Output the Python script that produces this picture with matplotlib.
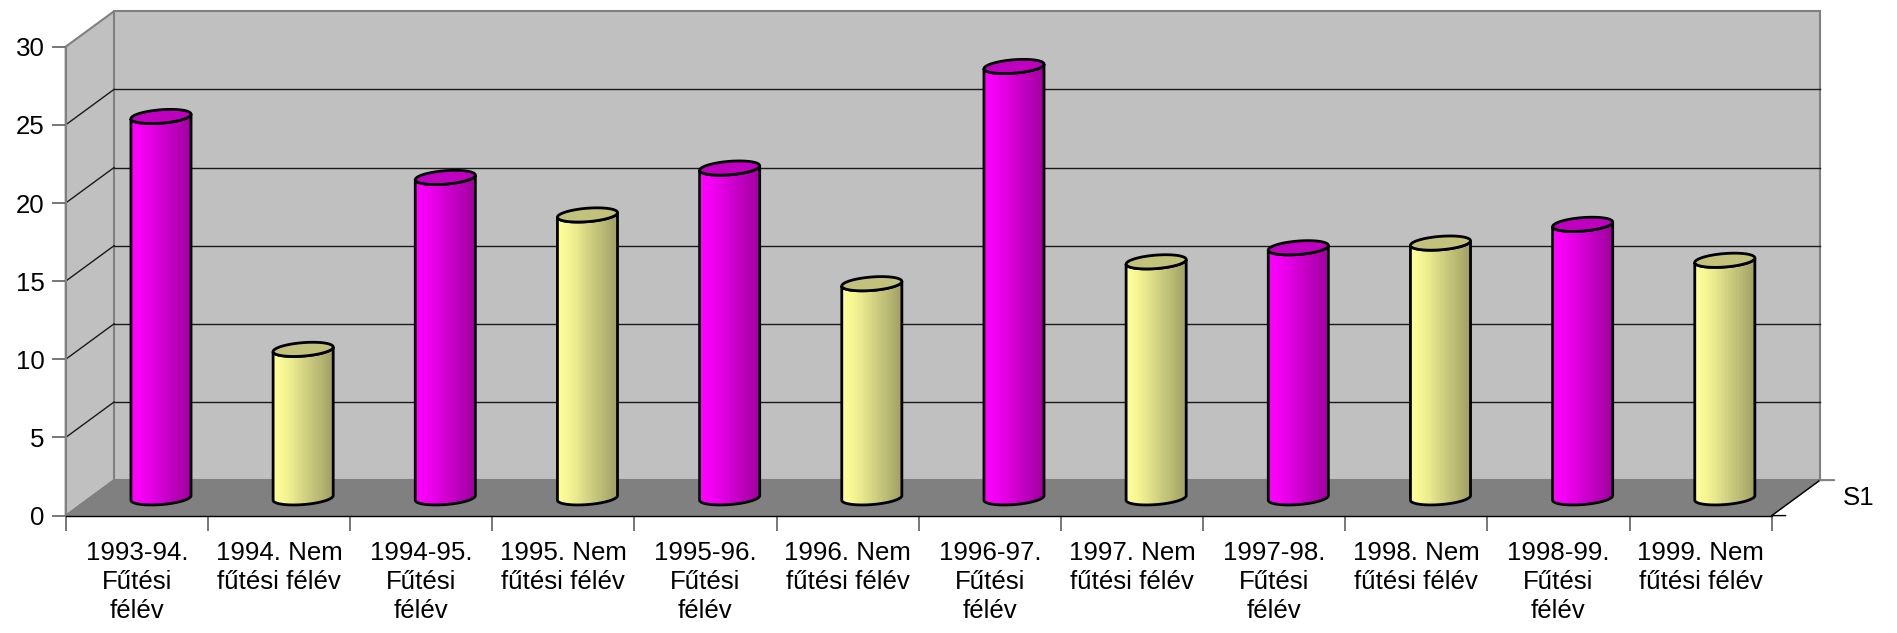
import numpy as np
import matplotlib
matplotlib.use("Agg")
import matplotlib.pyplot as plt
from matplotlib.patches import Polygon
from matplotlib.colors import LinearSegmentedColormap

# data
categories = [
    "1993-94.\nFűtési\nfélév", "1994. Nem\nfűtési félév",
    "1994-95.\nFűtési\nfélév", "1995. Nem\nfűtési félév",
    "1995-96.\nFűtési\nfélév", "1996. Nem\nfűtési félév",
    "1996-97.\nFűtési\nfélév", "1997. Nem\nfűtési félév",
    "1997-98.\nFűtési\nfélév", "1998. Nem\nfűtési félév",
    "1998-99.\nFűtési\nfélév", "1999. Nem\nfűtési félév",
]
values = [24.4, 9.5, 20.5, 18.1, 21.1, 13.7, 27.6, 15.1, 16.0, 16.3, 17.5, 15.2]
yticks = [0, 5, 10, 15, 20, 25, 30]
series_name = "S1"

plt.rcParams["font.family"] = ["Liberation Sans", "DejaVu Sans"]
FS = 18.6

W, H = 1897, 633
fig = plt.figure(figsize=(W / 100, H / 100), dpi=100)
# front plane of the 3d box
x0_px, y0_px, x1_px, ytop_px = 65.7, 515.6, 1771.7, 46.7
ax = fig.add_axes([x0_px / W, (H - y0_px) / H, (x1_px - x0_px) / W, (y0_px - ytop_px) / H])
n = len(categories)
ymax = yticks[-1]
ax.set_xlim(0, n)
ax.set_ylim(0, ymax)

# depth of the box (pixels) converted to data units
depth_px = (48.4, 35.5)
dx = depth_px[0] / ((x1_px - x0_px) / n)
dy = depth_px[1] / ((y0_px - ytop_px) / ymax)

wall = "#C0C0C0"
floor = "#808080"
edge = "#808080"

# side wall, back wall, floor
ax.add_patch(Polygon([(0, 0), (0, ymax), (dx, ymax + dy), (dx, dy)], closed=True,
                     facecolor=wall, edgecolor=edge, lw=1.5, zorder=0, clip_on=False))
ax.add_patch(Polygon([(dx, dy), (n + dx, dy), (n + dx, ymax + dy), (dx, ymax + dy)], closed=True,
                     facecolor=wall, edgecolor=edge, lw=1.5, zorder=0, clip_on=False))
ax.add_patch(Polygon([(0, 0), (n, 0), (n + dx, dy), (dx, dy)], closed=True,
                     facecolor=floor, edgecolor=edge, lw=1.0, zorder=0.5, clip_on=False))
# floor right edge
ax.plot([n, n + dx], [0, dy], color="black", lw=1.0, zorder=1, clip_on=False)

# gridlines on side and back wall
for v in yticks[1:-1]:
    ax.plot([0, dx], [v, v + dy], color="#1a1a1a", lw=1.0, zorder=1, clip_on=False)
    ax.plot([dx, n + dx], [v + dy, v + dy], color="#1a1a1a", lw=1.0, zorder=1, clip_on=False)

# cylinders
magenta_cm = LinearSegmentedColormap.from_list(
    "mag", ["#FF00FF", "#F200F2", "#DD00DD", "#C800C8", "#B400B4", "#A000A0"], N=28)
yellow_cm = LinearSegmentedColormap.from_list(
    "yel", ["#FFFF99", "#F4F494", "#E0E08A", "#CACA7E", "#B6B672", "#A0A066"], N=28)
grad = np.linspace(0, 1, 256).reshape(1, -1)

A = 0.2          # half width in categories
h = 0.2          # half depth as fraction of box depth
hx, hy = h * dx, h * dy
t_r = np.arctan2(hx, A)
t_front = np.linspace(t_r + np.pi, t_r + 2 * np.pi, 80)
t_all = np.linspace(0, 2 * np.pi, 160)

for i, (lab, v) in enumerate(zip(categories, values)):
    heating = "Nem" not in lab
    cmap = magenta_cm if heating else yellow_cm
    topc = "#C000C0" if heating else "#C2C27C"
    cx = i + 0.5 + 0.5 * dx
    base = 0.5 * dy
    top = v + 0.5 * dy

    bx = cx + A * np.cos(t_front) + hx * np.sin(t_front)
    by = base + hy * np.sin(t_front)
    tx = cx + A * np.cos(t_front) + hx * np.sin(t_front)
    ty = top + hy * np.sin(t_front)
    body_pts = np.vstack([np.column_stack([bx, by]), np.column_stack([tx[::-1], ty[::-1]])])
    body = Polygon(body_pts, closed=True, facecolor="none", edgecolor="black", lw=2.0,
                   zorder=4, clip_on=False)
    ax.add_patch(body)
    half = np.sqrt(A ** 2 + hx ** 2)
    im = ax.imshow(grad, cmap=cmap, aspect="auto", interpolation="nearest",
                   extent=[cx - half, cx + half, base - hy - 0.5, top + hy + 0.5], zorder=3)
    im.set_clip_path(body)

    ex = cx + A * np.cos(t_all) + hx * np.sin(t_all)
    ey = top + hy * np.sin(t_all)
    ax.add_patch(Polygon(np.column_stack([ex, ey]), closed=True, facecolor=topc,
                         edgecolor="black", lw=2.0, zorder=5, clip_on=False))

ax.set_xlim(0, n)
ax.set_ylim(0, ymax)

# axes
for s in ["top", "right"]:
    ax.spines[s].set_visible(False)
ax.spines["left"].set_color(edge)
ax.spines["left"].set_linewidth(1.5)
ax.spines["bottom"].set_color("black")
ax.spines["bottom"].set_linewidth(1.0)
ax.spines["left"].set_zorder(6)
ax.spines["bottom"].set_zorder(6)
ax.set_facecolor("none")

ax.set_yticks(yticks)
ax.set_yticklabels([str(t) for t in yticks])
ax.tick_params(axis="y", direction="out", length=10, width=1.2, color="#606060",
               labelsize=FS, pad=5)
ax.set_xticks(np.arange(n + 1))
ax.set_xticklabels([""] * (n + 1))
ax.set_xticks(np.arange(n) + 0.5, minor=True)
ax.set_xticklabels(categories, minor=True)
ax.tick_params(axis="x", which="major", direction="out", length=11, width=1.2, color="#606060")
ax.tick_params(axis="x", which="minor", length=0, labelsize=FS, pad=18)
for t in ax.get_xticklabels(minor=True):
    t.set_linespacing(1.28)

# series (depth) axis at the right
ax.annotate("", xy=(n, 0), xytext=(14, 0), textcoords="offset pixels", annotation_clip=False,
            arrowprops=dict(arrowstyle="-", color="black", lw=1.0, shrinkA=0, shrinkB=0))
ax.annotate("", xy=(n + dx, dy), xytext=(14, 0), textcoords="offset pixels", annotation_clip=False,
            arrowprops=dict(arrowstyle="-", color=edge, lw=1.5, shrinkA=0, shrinkB=0))
ax.annotate(series_name, xy=(n + 0.5 * dx, 0.5 * dy), xytext=(47, 0), annotation_clip=False,
            textcoords="offset pixels", fontsize=FS, ha="left", va="center")

fig.savefig("out.png", dpi=100)
